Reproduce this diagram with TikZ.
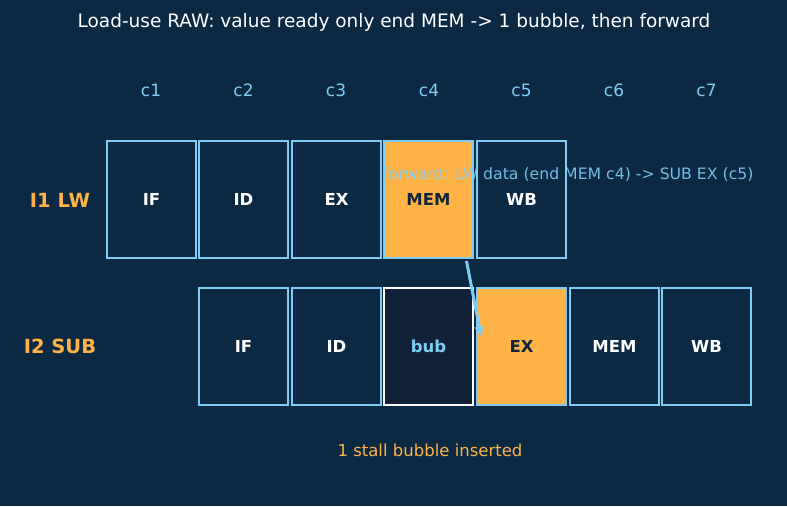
\documentclass[tikz,border=0pt]{standalone}
\usepackage{fontspec}
\setmainfont{DejaVu Sans}
\usetikzlibrary{arrows.meta}
\definecolor{bg}{HTML}{0B2942}
\definecolor{edge}{HTML}{7FCDF5}
\definecolor{orng}{HTML}{FFB347}
\definecolor{bubfill}{HTML}{11213A}
\definecolor{darktxt}{HTML}{13253A}
\tikzset{
  stage/.style={draw=edge, line width=2pt, fill=bg, minimum width=89pt, minimum height=117pt, inner sep=0pt, font=\fontsize{16.5}{19}\selectfont\bfseries, text=white},
  hot/.style={stage, fill=orng, text=darktxt},
  bubble/.style={stage, draw=white, fill=bubfill, text=edge},
  cyc/.style={text=edge, font=\fontsize{17}{20}\selectfont},
  rowlab/.style={text=orng, font=\fontsize{19.5}{23}\selectfont\bfseries},
  fwd/.style={-{Stealth[length=10pt,width=10pt]}, draw=edge, line width=3pt}
}
\begin{document}
\begin{tikzpicture}[x=1pt,y=-1pt]
\fill[bg] (0,0) rectangle (787,506);
\useasboundingbox (0,0) rectangle (787,506);
\node[text=white, font=\fontsize{18.5}{22}\selectfont] (title) at (394,22) {Load-use RAW: value ready only end MEM -> 1 bubble, then forward};
\foreach \i/\x in {1/151,2/243.5,3/336,4/429,5/521.5,6/614,7/706.5} {
  \node[cyc] (c\i) at (\x,90) {c\i};
}
\node[rowlab] (r1) at (60,200) {I1 LW};
\node[rowlab] (r2) at (60,346) {I2 SUB};
% row 1
\node[stage] (a1) at (151.5,199.5) {IF};
\node[stage] (a2) at (243.5,199.5) {ID};
\node[stage] (a3) at (336.5,199.5) {EX};
\node[hot]   (a4) at (428.5,199.5) {MEM};
\node[stage] (a5) at (521.5,199.5) {WB};
% row 2
\node[stage] (b2) at (243.5,346) {IF};
\node[stage] (b3) at (336.5,346) {ID};
\node[bubble] (b4) at (428.5,346) {bub};
\node[hot]   (b5) at (521.5,346) {EX};
\node[stage] (b6) at (614.5,346) {MEM};
\node[stage] (b7) at (706.5,346) {WB};
\node[text=edge, text opacity=0.9, font=\fontsize{15.7}{18}\selectfont, anchor=west, inner sep=0pt] (fl) at (383,175) {forward: LW data (end MEM c4) -> SUB EX (c5)};
\coordinate (s) at ([xshift=38pt,yshift=-2pt]a4.south);
\draw[fwd] (s) -- ([xshift=5pt,yshift=10pt]b5.west);
\node[text=orng, font=\fontsize{16.5}{19}\selectfont] (note) at (430,450) {1 stall bubble inserted};
\end{tikzpicture}
\end{document}
